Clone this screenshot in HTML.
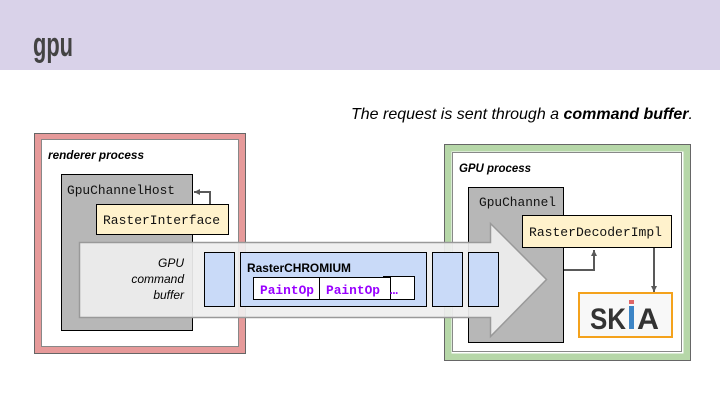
<!DOCTYPE html>
<html><head><meta charset="utf-8"><style>
html,body{margin:0;padding:0;background:#fff;}
svg{display:block;}
text{font-family:"Liberation Sans",sans-serif;}
.m{font-family:"Liberation Mono",monospace;}
</style></head><body>
<svg width="720" height="405" viewBox="0 0 720 405" xmlns="http://www.w3.org/2000/svg">
<defs>
<marker id="ah" markerWidth="8" markerHeight="8" refX="6" refY="4" orient="auto" markerUnits="userSpaceOnUse">
<path d="M0,1 L6,4 L0,7 Z" fill="#595959"/></marker>
</defs>
<rect x="0" y="0" width="720" height="70" fill="#d9d2e9"/>
<text x="33" y="56" font-size="34" font-weight="bold" fill="#434343" textLength="40" lengthAdjust="spacingAndGlyphs">gpu</text>
<text x="351" y="119" font-size="16" font-style="italic" fill="#000" textLength="342" lengthAdjust="spacingAndGlyphs">The request is sent through a <tspan font-weight="bold">command buffer</tspan>.</text>

<rect x="37.5" y="136.5" width="205" height="214" fill="#fff" stroke="#e69a9a" stroke-width="7"/>
<rect x="34.5" y="133.5" width="211" height="220" fill="none" stroke="#666" stroke-width="1"/>
<rect x="41.5" y="139.5" width="197" height="207" fill="none" stroke="#888" stroke-width="1"/>
<text x="48" y="159" font-size="12" font-weight="bold" font-style="italic" textLength="96" lengthAdjust="spacingAndGlyphs">renderer process</text>
<rect x="61.5" y="174.5" width="131" height="156" fill="#b7b7b7" stroke="#000"/>
<text class="m" x="67" y="194" font-size="13" fill="#111" textLength="108" lengthAdjust="spacingAndGlyphs">GpuChannelHost</text>
<polyline points="210,204 210,192 194,192" fill="none" stroke="#595959" stroke-width="2" marker-end="url(#ah)"/>
<rect x="96.5" y="204.5" width="132" height="30" fill="#fff2cc" stroke="#000"/>
<text class="m" x="103" y="224" font-size="13" fill="#111" textLength="117" lengthAdjust="spacingAndGlyphs">RasterInterface</text>

<rect x="448" y="148" width="239" height="209" fill="#fff" stroke="#b6d7a8" stroke-width="7"/>
<rect x="444.5" y="144.5" width="246" height="216" fill="none" stroke="#666"/>
<rect x="452.5" y="152.5" width="229" height="199" fill="none" stroke="#888"/>
<text x="459" y="172" font-size="12" font-weight="bold" font-style="italic" textLength="72" lengthAdjust="spacingAndGlyphs">GPU process</text>
<rect x="468.5" y="187.5" width="95" height="155" fill="#b7b7b7" stroke="#000"/>
<text class="m" x="479" y="206" font-size="13" fill="#111" textLength="77" lengthAdjust="spacingAndGlyphs">GpuChannel</text>
<rect x="522.5" y="215.5" width="149" height="32" fill="#fff2cc" stroke="#000"/>
<text class="m" x="529" y="236" font-size="13" fill="#111" textLength="133" lengthAdjust="spacingAndGlyphs">RasterDecoderImpl</text>
<polyline points="564,270 594,270 594,250" fill="none" stroke="#595959" stroke-width="2" marker-end="url(#ah)"/>
<line x1="654" y1="248" x2="654" y2="292" stroke="#595959" stroke-width="2" marker-end="url(#ah)"/>
<rect x="579" y="293" width="93" height="44" fill="#f8f8f8" stroke="#f4a21c" stroke-width="2"/>
<text x="590" y="329" font-size="30" font-weight="bold" fill="#333" textLength="36" lengthAdjust="spacingAndGlyphs">SK</text>
<text x="637" y="329" font-size="30" font-weight="bold" fill="#333" textLength="22" lengthAdjust="spacingAndGlyphs">A</text>
<rect x="629" y="306" width="5" height="23" fill="#3d85c6"/>
<rect x="629" y="300" width="5" height="4" fill="#e06666"/>

<path d="M79.5,242.5 L490.5,242.5 L490.5,223.5 L546.5,279.5 L490.5,336.5 L490.5,317.5 L79.5,317.5 Z" fill="#eeeeee" fill-opacity="0.93" stroke="#999" stroke-width="1.5"/>
<text x="184" y="267" font-size="12" font-style="italic" text-anchor="end">GPU</text>
<text x="184" y="283" font-size="12" font-style="italic" text-anchor="end">command</text>
<text x="184" y="299" font-size="12" font-style="italic" text-anchor="end">buffer</text>
<rect x="204.5" y="252.5" width="30" height="54" fill="#c9daf8" stroke="#000"/>
<rect x="240.5" y="252.5" width="186" height="54" fill="#c9daf8" stroke="#000"/>
<text x="247" y="272" font-size="12" font-weight="bold" textLength="104" lengthAdjust="spacingAndGlyphs">RasterCHROMIUM</text>
<rect x="383.5" y="276.5" width="31" height="23" fill="#fff" stroke="#000"/>
<rect x="319.5" y="277.5" width="71" height="22" fill="#fff" stroke="#000"/>
<rect x="253.5" y="277.5" width="66" height="22" fill="#fff" stroke="#000"/>
<text class="m" x="260" y="294" font-size="13" font-weight="bold" fill="#9900ff" textLength="54" lengthAdjust="spacingAndGlyphs">PaintOp</text>
<text class="m" x="326" y="294" font-size="13" font-weight="bold" fill="#9900ff" textLength="54" lengthAdjust="spacingAndGlyphs">PaintOp</text>
<text class="m" x="390" y="294" font-size="13" font-weight="bold" fill="#9900ff">…</text>
<rect x="432.5" y="252.5" width="30" height="54" fill="#c9daf8" stroke="#000"/>
<rect x="468.5" y="252.5" width="30" height="54" fill="#c9daf8" stroke="#000"/>
</svg>
</body></html>
